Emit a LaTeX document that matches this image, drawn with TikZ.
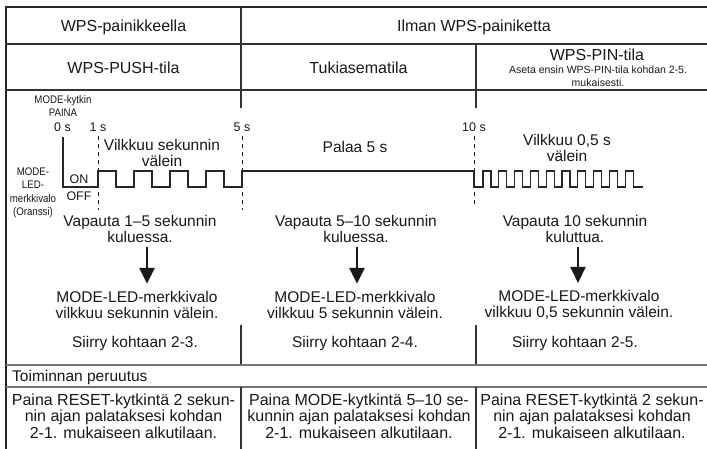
\documentclass[tikz,border=0pt]{standalone}
\usepackage{fontspec}
\setmainfont{Liberation Sans}
\newfontfamily\narrowfont[FakeStretch=0.88]{Liberation Sans}
\usetikzlibrary{arrows.meta}
\tikzset{frame/.style={
            line width=2.2pt,
            black!85
        },
        rule/.style={
            line width=1.3pt,
            black!80
        },
        greyrule/.style={
            line width=1.8pt,
            black!55
        },
        wave/.style={
            line width=1.2pt,
            black!85,
            line join=miter
        },
        marker/.style={
            line width=0.9pt,
            black!85,
            dash pattern=on 4pt off 4pt
        },
        bigarrow/.style={
            line width=2.6pt,
            black!90,
            -{Triangle[width=15pt,length=16pt]},
            shorten <=4pt,
            shorten >=7pt
        },
        head/.style={
            inner sep=0pt,
            align=center,
            font=\fontsize{16}{18}\selectfont
        },
        txt/.style={
            inner sep=0pt,
            align=center,
            font=\fontsize{15.5}{16.5}\selectfont
        },
        note/.style={
            inner sep=0pt,
            align=center,
            font=\narrowfont\fontsize{11}{13.5}\selectfont
        },
        tick/.style={
            inner sep=0pt,
            font=\fontsize{12.5}{14}\selectfont
        }
    }
\begin{document}
\begin{tikzpicture}
        [x=1pt,y=-1pt,every node/.style={text=black!90}]

        \useasboundingbox[fill=white] (0,0) rectangle (707,449);

        \draw[frame] (6,460) -- (6,7) -- (712,7);
        \draw[rule] (6,44) -- (712,44);
        \draw[rule] (6,90) -- (712,90);
        \draw[rule] (241,7) -- (241,108);
        \draw[rule] (476,44) -- (476,108);
        \draw[rule] (241,325) -- (241,365);
        \draw[rule] (476,325) -- (476,365);
        \draw[greyrule] (6,365) -- (712,365);
        \draw[greyrule] (6,387) -- (712,387);
        \draw[rule] (241,387) -- (241,460);
        \draw[rule] (476,387) -- (476,460);

        \node[head] (withbtn) at (123.5,27) {WPS-painikkeella};
        \node[head] (nobtn) at (474,27) {Ilman WPS-painiketta};
        \node[head] (pushmode) at (123.5,68) {WPS-PUSH-tila};
        \node[head] (apmode) at (358.5,68) {Tukiasematila};
        \node[head] (pinmode) at (597,55) {WPS-PIN-tila};
        \node[note,font=\fontsize{10.5}{13}\selectfont] (pinnote) at (598,76) {Aseta ensin WPS-PIN-tila kohdan 2-5.\\mukaisesti.};

        \node[note] (press) at (63,106) {MODE-kytkin\\PAINA};
        \node[tick] (t0) at (62.5,127) {0 s};
        \node[tick] (t1) at (98,127) {1 s};
        \node[tick] (t5) at (242,127) {5 s};
        \node[tick] (t10) at (474,127) {10 s};

        \draw[marker] (t1.south) ++(0,4) -- (98,210);
        \draw[marker] (t5.south) ++(0,4) -- (242,210);
        \draw[marker] (t10.south) ++(0,4) -- (474,206);

        \draw[wave] (63,137) -- (63,187) -- (98,187)
            foreach \k in {1,...,4} { -- ++(0,-16) -- ++(18,0) -- ++(0,16) -- ++(18,0) }
            -- ++(0,-16) -- (474,171) -- (474,187) -- (483,187)
            foreach \k in {1,...,10} { -- ++(0,-16) -- ++(7.9,0) -- ++(0,16) -- ++(7.9,0) }
            -- (643,187);

        \node[note] (ledname) at (33,193) {MODE-\\LED-\\merkkivalo\\(Oranssi)};
        \node[tick] (on) at (79,179) {ON};
        \node[tick] (off) at (79,196) {OFF};

        \node[txt] (blink1) at (162,153) {Vilkkuu sekunnin\\välein};
        \node[txt] (lit5) at (355,147) {Palaa 5 s};
        \node[txt] (blink05) at (567,148) {Vilkkuu 0,5 s\\välein};

        \node[txt] (rel1) at (140,229) {Vapauta 1–5 sekunnin\\kuluessa.};
        \node[txt] (rel2) at (356,229) {Vapauta 5–10 sekunnin\\kuluessa.};
        \node[txt] (rel3) at (575,229) {Vapauta 10 sekunnin\\kuluttua.};

        \node[txt] (led1) at (137,305) {MODE-LED-merkkivalo\\vilkkuu sekunnin välein.};
        \node[txt] (led2) at (355,305) {MODE-LED-merkkivalo\\vilkkuu 5 sekunnin välein.};
        \node[txt] (led3) at (579,305) {MODE-LED-merkkivalo\\vilkkuu 0,5 sekunnin välein.};

        \coordinate (a1) at (147,0);
        \coordinate (a2) at (357,0);
        \coordinate (a3) at (578,0);
        \draw[bigarrow] (rel1.south -| a1) -- (led1.north -| a1);
        \draw[bigarrow] (rel2.south -| a2) -- (led2.north -| a2);
        \draw[bigarrow] (rel3.south -| a3) -- (led3.north -| a3);

        \node[txt] (go1) at (135,343) {Siirry kohtaan 2-3.};
        \node[txt] (go2) at (355,343) {Siirry kohtaan 2-4.};
        \node[txt] (go3) at (575,343) {Siirry kohtaan 2-5.};

        \node[txt,anchor=west] (cancel) at (12,377) {Toiminnan peruutus};

        \node[head,font=\fontsize{16}{16.5}\selectfont] (reset1) at (123.5,416) {Paina RESET-kytkintä 2 sekun-\\nin ajan palataksesi kohdan\\2-1. mukaiseen alkutilaan.};
        \node[head,font=\fontsize{16}{16.5}\selectfont] (reset2) at (359,416) {Paina MODE-kytkintä 5–10 se-\\kunnin ajan palataksesi kohdan\\2-1. mukaiseen alkutilaan.};
        \node[head,font=\fontsize{16}{16.5}\selectfont] (reset3) at (592,416) {Paina RESET-kytkintä 2 sekun-\\nin ajan palataksesi kohdan\\2-1. mukaiseen alkutilaan.};

    \end{tikzpicture}
\end{document}
